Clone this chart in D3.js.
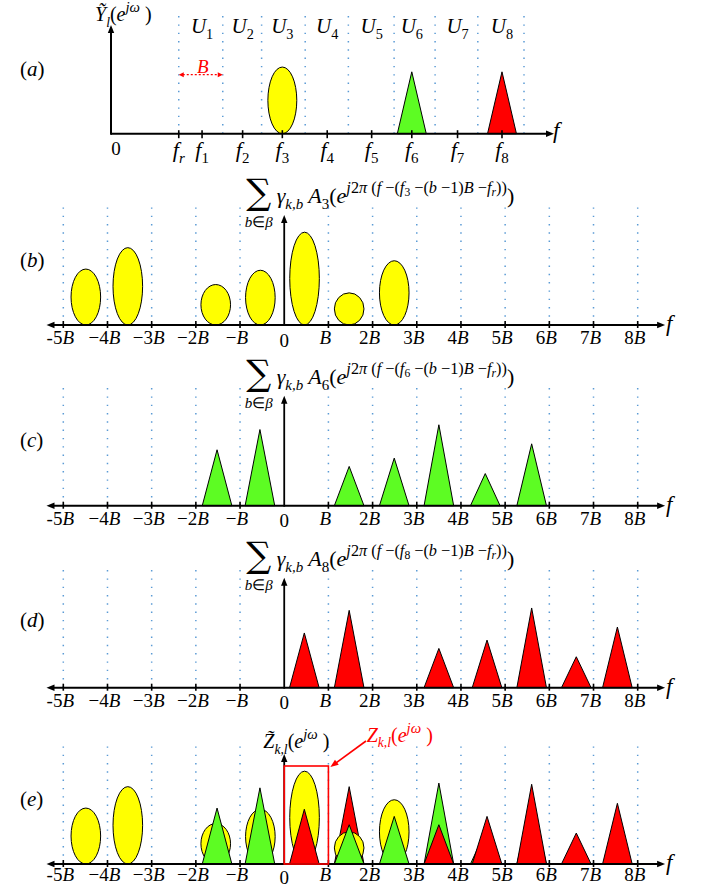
<!DOCTYPE html>
<html><head><meta charset="utf-8">
<script src="https://cdn.jsdelivr.net/npm/d3@7"></script>
<style>body{margin:0;background:#fff}svg{display:block}</style>
</head><body>
<svg id="c" width="710" height="886"></svg>
<script>
// ---------------- DATA ----------------
// Panel (a): positions in units of B measured from the origin
const aTickKeys   = ["r","1","2","3","4","5","6","7","8"];
const aTickPos    = [1.57, 2.11, 3.05, 3.97, 5.01, 6.04, 6.97, 8.03, 9.06];
const aBandEdges  = [1.57, 2.59, 3.49, 4.50, 5.50, 6.56, 7.51, 8.50, 9.57];
const aUsers      = ["1","2","3","4","5","6","7","8"];
const aShapeUser  = [3, 6, 8];
const aShapeAmp   = [0.56, 0.52, 0.52];
const aShapeKind  = ["ellipse", "triangle", "triangle"];
const aShapeColor = ["yellow", "green", "red"];

// Panels (b)-(e): frequency axis in units of B
const bTickVals   = [-5,-4,-3,-2,-1,0,1,2,3,4,5,6,7,8];
const bTickLabels = ["-5B","−4B","−3B","−2B","−B","0","B","2B","3B","4B","5B","6B","7B","8B"];

const yellowPos = [-4.49, -3.54, -1.55, -0.54, 0.46, 1.47, 2.49];
const yellowAmp = [0.47, 0.65, 0.34, 0.46, 0.78, 0.27, 0.54];
const greenPos  = [-1.52, -0.55, 1.47, 2.49, 3.50, 4.55, 5.60];
const greenAmp  = [0.47, 0.64, 0.33, 0.40, 0.68, 0.27, 0.52];
const redPos    = [0.455, 1.47, 3.50, 4.59, 5.60, 6.61, 7.54];
const redAmp    = [0.46, 0.65, 0.33, 0.40, 0.67, 0.26, 0.51];
const eRedBehind = [1];   // red replica drawn beneath the others in (e)

const titleIdx = {b:"3", c:"6", d:"8"};

// ---------------- STYLE ----------------
const FONT = "'Liberation Serif','Times New Roman',serif";
const COL = {yellow:"#ffff00", green:"#5dfc23", red:"#ff0000"};
const GRID = "#5b9bd5";
const SHAPE_W = 0.67;

const svg = d3.select("#c");

function mtext(sel, x, y, parts, o) {
  const fs = o.size;
  const t = sel.append("text").attr("x", x).attr("y", y)
    .attr("font-family", o.family || FONT).attr("font-size", fs)
    .attr("text-anchor", o.anchor || "start").attr("fill", o.fill || "#000");
  let cur = 0;
  parts.forEach(([s, f = ""]) => {
    let off = 0, size = fs;
    if (f.includes("b")) { off = 0.28 * fs; size = 0.68 * fs; }
    if (f.includes("p")) { off = -0.45 * fs; size = 0.74 * fs; }
    if (f.includes("q")) { off = -0.30 * fs; size = 0.53 * fs; }
    t.append("tspan").attr("dy", off - cur).attr("font-size", size)
      .attr("font-style", f.includes("i") ? "italic" : "normal").text(s);
    cur = off;
  });
  return t;
}

function arrowHead(g, x, y, dir, color) {
  const L = 8, W = 3.2;
  let p;
  if (dir === "r") p = [[x, y], [x - L, y - W], [x - L, y + W]];
  if (dir === "l") p = [[x, y], [x + L, y - W], [x + L, y + W]];
  if (dir === "u") p = [[x, y], [x - W, y + L], [x + W, y + L]];
  g.append("path").attr("d", d3.line()(p) + "Z").attr("fill", color || "#000");
}

function drawShape(g, kind, cx, halfW, y0, h, color) {
  if (kind === "ellipse") {
    g.append("ellipse").attr("cx", cx).attr("cy", y0 - h / 2)
      .attr("rx", halfW).attr("ry", h / 2)
      .attr("fill", COL[color]).attr("stroke", "#000").attr("stroke-width", 1);
  } else {
    g.append("path").attr("d", d3.line()([[cx - halfW, y0], [cx, y0 - h], [cx + halfW, y0]]) + "Z")
      .attr("fill", COL[color]).attr("stroke", "#000").attr("stroke-width", 1)
      .attr("stroke-linejoin", "miter");
  }
}

const yH = d3.scaleLinear().domain([0, 1]).range([0, 119]);

// ---------------- PANEL (a) ----------------
{
  const g = svg.append("g");
  const aX = d3.scaleLinear().domain([0, 9.57]).range([111, 524]);
  const Y0 = 133.7;
  g.selectAll(".ga").data(aBandEdges).enter().append("line")
    .attr("x1", d => aX(d)).attr("x2", d => aX(d))
    .attr("y1", Y0).attr("y2", 15)
    .attr("stroke", GRID).attr("stroke-width", 1.5)
    .attr("stroke-dasharray", "1.4 6.9");

  aShapeUser.forEach((u, i) => {
    const c = aTickPos[u];
    drawShape(g, aShapeKind[i], aX(c), (aX(c + SHAPE_W / 2) - aX(c - SHAPE_W / 2)) / 2, Y0, yH(aShapeAmp[i]), aShapeColor[i]);
  });

  g.append("line").attr("x1", aX(0)).attr("x2", 548).attr("y1", Y0).attr("y2", Y0)
    .attr("stroke", "#000").attr("stroke-width", 2);
  arrowHead(g, 554, Y0, "r");
  g.append("line").attr("x1", aX(0)).attr("x2", aX(0)).attr("y1", Y0 + 1).attr("y2", 31)
    .attr("stroke", "#000").attr("stroke-width", 2);
  arrowHead(g, aX(0), 25, "u");

  g.selectAll(".ta").data(aTickPos).enter().append("line")
    .attr("x1", d => aX(d)).attr("x2", d => aX(d))
    .attr("y1", Y0 - 3.5).attr("y2", Y0 + 4.5)
    .attr("stroke", "#000").attr("stroke-width", 1.6);

  aTickKeys.forEach((k, i) => {
    mtext(g, aX(aTickPos[i]), 157, [["f", "i"], [k, k === "r" ? "ib" : "b"]], {size: 22, anchor: "middle"});
  });
  mtext(g, aX(0) + 5, 155, [["0", ""]], {size: 19, anchor: "middle"});
  aUsers.forEach((k, i) => {
    mtext(g, aX(aTickPos[i + 1]), 33, [["U", "i"], [k, "b"]], {size: 21, anchor: "middle"});
  });
  mtext(g, 553, 138, [["f", "i"]], {size: 23});
  mtext(g, 95, 21, [["Ỹ", "i"], ["l", "ib"], ["(", ""], ["e", "i"], ["jω", "ip"], [" )", ""]], {size: 20});

  // red B arrow
  const x1 = aX(aBandEdges[0]), x2 = aX(aBandEdges[1]);
  g.append("line").attr("x1", x1 + 4).attr("x2", x2 - 4).attr("y1", 74.7).attr("y2", 74.7)
    .attr("stroke", "#ff0000").attr("stroke-width", 1.2).attr("stroke-dasharray", "2 2");
  g.append("path").attr("d", `M${x1},74.7 l5,-2.5 v5 Z`).attr("fill", "#ff0000");
  g.append("path").attr("d", `M${x2},74.7 l-5,-2.5 v5 Z`).attr("fill", "#ff0000");
  mtext(g, (x1 + x2) / 2 + 2, 72.5, [["B", "i"]], {size: 19, anchor: "middle", fill: "#ff0000"});

  mtext(g, 20, 76, [["(", ""], ["a", "i"], [")", ""]], {size: 21});
}

// ---------------- PANELS (b)-(e) ----------------
const bX = d3.scaleLinear().domain([-5, 8]).range([63.3, 637.7]);
const halfW = (bX(SHAPE_W) - bX(0)) / 2;
const panels = [
  {id: "b", Y0: 325,   labelY: 267, tickDy: 19},
  {id: "c", Y0: 505.7, labelY: 447, tickDy: 19},
  {id: "d", Y0: 687.7, labelY: 627, tickDy: 19},
  {id: "e", Y0: 864,   labelY: 805.5, tickDy: 17}
];
const series = {
  yellow: {pos: yellowPos, amp: yellowAmp, kind: "ellipse"},
  green:  {pos: greenPos,  amp: greenAmp,  kind: "triangle"},
  red:    {pos: redPos,    amp: redAmp,    kind: "triangle"}
};

panels.forEach(p => {
  const g = svg.append("g");
  const Y0 = p.Y0;
  g.selectAll(".gb").data(bTickVals.filter(v => v !== 0)).enter().append("line")
    .attr("x1", d => bX(d)).attr("x2", d => bX(d))
    .attr("y1", Y0).attr("y2", Y0 - 119)
    .attr("stroke", GRID).attr("stroke-width", 1.5)
    .attr("stroke-dasharray", "1.4 6.9");

  const draw = (name, filter) => {
    const s = series[name];
    s.pos.forEach((c, i) => {
      if (filter && !filter(i)) return;
      drawShape(g, s.kind, bX(c), halfW, Y0, yH(s.amp[i]), name);
    });
  };
  if (p.id === "b") draw("yellow");
  if (p.id === "c") draw("green");
  if (p.id === "d") draw("red");
  if (p.id === "e") {
    draw("red", i => eRedBehind.includes(i));
    draw("yellow");
    draw("green");
    draw("red", i => !eRedBehind.includes(i));
  }

  const xl = bX(-5.38), xr = bX(8.62);
  g.append("line").attr("x1", xl + 6).attr("x2", xr - 6).attr("y1", Y0).attr("y2", Y0)
    .attr("stroke", "#000").attr("stroke-width", 2);
  arrowHead(g, xl, Y0, "l");
  arrowHead(g, xr, Y0, "r");
  const x0 = bX(0);
  g.append("line").attr("x1", x0).attr("x2", x0).attr("y1", Y0 + 1).attr("y2", Y0 - 104)
    .attr("stroke", "#000").attr("stroke-width", 1.8);
  arrowHead(g, x0, Y0 - 110, "u");

  g.selectAll(".tb").data(bTickVals.filter(v => v !== 0)).enter().append("line")
    .attr("x1", d => bX(d)).attr("x2", d => bX(d))
    .attr("y1", Y0 - 4).attr("y2", Y0 + 3)
    .attr("stroke", "#000").attr("stroke-width", 1.6);

  bTickLabels.forEach((lab, i) => {
    const v = bTickVals[i];
    let parts;
    if (lab === "0") parts = [["0", ""]];
    else {
      const m = lab.match(/^([-−]?)(\d*)B$/);
      parts = [[m[1] + m[2], ""], ["B", "i"]];
    }
    mtext(g, bX(v) - (v === 0 ? 0 : 3), Y0 + p.tickDy + (v === 0 ? 2.5 : 0), parts, {size: 19, anchor: "middle"});
  });

  mtext(g, 666, Y0 + 6, [["f", "i"]], {size: 23});
  mtext(g, 20, p.labelY, [["(", ""], [p.id, "i"], [")", ""]], {size: 21});

  if (titleIdx[p.id]) {
    const k = titleIdx[p.id];
    g.append("text").attr("x", 258.7).attr("y", Y0 - 121).attr("text-anchor", "middle")
      .attr("font-family", "'DejaVu Serif',serif").attr("font-size", 35).text("∑");
    mtext(g, 258.7, Y0 - 98, [["b", "i"], ["∈", ""], ["β", "i"]], {size: 15, anchor: "middle"});
    mtext(g, 276.7, Y0 - 122, [
      ["γ", "i"], ["k,b", "ib"], [" A", "i"], [k, "b"], ["(", ""], ["e", "i"],
      ["j", "ip"], ["2", "p"], ["π", "ip"], [" (", "p"], ["f", "ip"], [" −(", "p"], ["f", "ip"], [k, "q"],
      [" −(", "p"], ["b", "ip"], [" −1)", "p"], ["B", "ip"], [" −", "p"], ["f", "ip"], ["r", "iq"],
      ["))", "p"], [")", ""]
    ], {size: 22});
  }

  if (p.id === "e") {
    mtext(g, 263.3, 748, [["Z\u0303", "i"], ["k,l", "ib"], ["(", ""], ["e", "i"], ["jω", "ip"], [" )", ""]], {size: 20});
    g.append("rect").attr("x", bX(0)).attr("y", Y0 - 98).attr("width", bX(1) - bX(0)).attr("height", 98)
      .attr("fill", "none").attr("stroke", "#ff0000").attr("stroke-width", 1.6);
    const tx = bX(1) + 2, ty = Y0 - 97;
    const sx = 366, sy = 741;
    const ang = Math.atan2(ty - sy, tx - sx);
    g.append("line").attr("x1", sx).attr("y1", sy)
      .attr("x2", tx - 7 * Math.cos(ang)).attr("y2", ty - 7 * Math.sin(ang))
      .attr("stroke", "#ff0000").attr("stroke-width", 1.6);
    const L = 8, W = 3.2;
    const bx = tx - L * Math.cos(ang), by = ty - L * Math.sin(ang);
    g.append("path").attr("d", d3.line()([[tx, ty],
      [bx + W * Math.sin(ang), by - W * Math.cos(ang)],
      [bx - W * Math.sin(ang), by + W * Math.cos(ang)]]) + "Z").attr("fill", "#ff0000");
    mtext(g, 366.7, 741.7, [["Z", "i"], ["k,l", "ib"], ["(", ""], ["e", "i"], ["jω", "ip"], [" )", ""]], {size: 20, fill: "#ff0000"});
  }
});
</script>
</body></html>
